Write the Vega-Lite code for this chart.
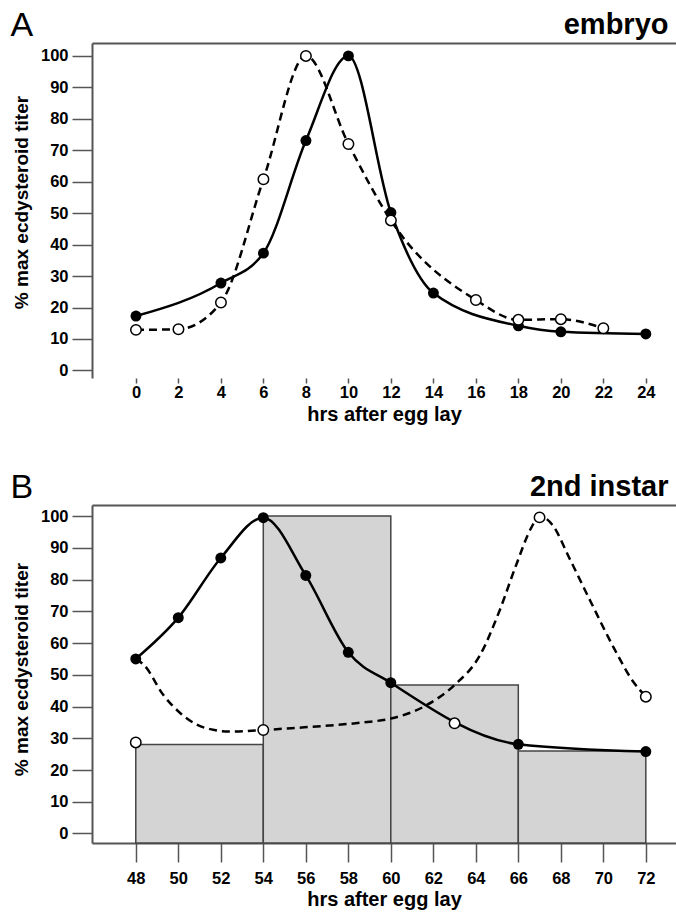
{
  "$schema": "https://vega.github.io/schema/vega-lite/v6.json",
  "padding": {"left": 10, "top": 8, "right": 0, "bottom": 0},
  "background": "white",
  "spacing": 45,
  "config": {
    "view": {"stroke": null},
    "font": "Liberation Sans",
    "axis": {
      "grid": false,
      "domainColor": "#555555",
      "domainWidth": 2,
      "tickColor": "#555555",
      "tickWidth": 1.5,
      "labelColor": "#000000",
      "labelFont": "Liberation Sans",
      "labelFontWeight": "bold",
      "labelFontSize": 16.5,
      "labelOverlap": false,
      "labelBound": false,
      "titleColor": "#000000",
      "titleFont": "Liberation Sans",
      "titleFontSize": 19,
      "titleFontWeight": "bold"
    }
  },
  "datasets": {
    "embryo_solid": [
      {"hr": 0, "pct": 17.3}, {"hr": 4, "pct": 27.8}, {"hr": 6, "pct": 37.3},
      {"hr": 8, "pct": 73.1}, {"hr": 10, "pct": 100}, {"hr": 12, "pct": 50.2},
      {"hr": 14, "pct": 24.6}, {"hr": 18, "pct": 14.2}, {"hr": 20, "pct": 12.3},
      {"hr": 24, "pct": 11.6}
    ],
    "embryo_open": [
      {"hr": 0, "pct": 12.9}, {"hr": 2, "pct": 13.1}, {"hr": 4, "pct": 21.6},
      {"hr": 6, "pct": 60.8}, {"hr": 8, "pct": 100}, {"hr": 10, "pct": 72},
      {"hr": 12, "pct": 47.7}, {"hr": 16, "pct": 22.4}, {"hr": 18, "pct": 16.1},
      {"hr": 20, "pct": 16.3}, {"hr": 22, "pct": 13.4}
    ],
    "instar_solid": [
      {"hr": 48, "pct": 55}, {"hr": 50, "pct": 68}, {"hr": 52, "pct": 86.8},
      {"hr": 54, "pct": 99.5}, {"hr": 56, "pct": 81.3}, {"hr": 58, "pct": 57.1},
      {"hr": 60, "pct": 47.5}, {"hr": 66, "pct": 28.1}, {"hr": 72, "pct": 25.8}
    ],
    "instar_open": [
      {"hr": 48, "pct": 28.7}, {"hr": 54, "pct": 32.6}, {"hr": 63, "pct": 34.7},
      {"hr": 67, "pct": 99.6}, {"hr": 72, "pct": 43.1}
    ],
    "instar_curve": [
      {"hr": 48, "pct": 55}, {"hr": 48.4, "pct": 53}, {"hr": 49.3, "pct": 43.6},
      {"hr": 50.1, "pct": 37.9}, {"hr": 50.9, "pct": 34.2}, {"hr": 51.7, "pct": 32.6},
      {"hr": 52.4, "pct": 32.1}, {"hr": 54, "pct": 32.6}, {"hr": 55.6, "pct": 33.3},
      {"hr": 57.1, "pct": 34.0}, {"hr": 58.7, "pct": 35.0}, {"hr": 60, "pct": 36.2},
      {"hr": 61.7, "pct": 40.5}, {"hr": 63, "pct": 46.8}, {"hr": 64.2, "pct": 56.2},
      {"hr": 65.1, "pct": 69.9}, {"hr": 65.9, "pct": 84.6}, {"hr": 66.6, "pct": 96.2},
      {"hr": 67, "pct": 100}, {"hr": 67.6, "pct": 97.3}, {"hr": 68.4, "pct": 86.8},
      {"hr": 69.4, "pct": 73.1}, {"hr": 70.5, "pct": 58.4}, {"hr": 71.4, "pct": 47.9},
      {"hr": 72, "pct": 43.1}
    ],
    "instar_bars": [
      {"start": 48, "end": 54, "pct": 28},
      {"start": 54, "end": 60, "pct": 100},
      {"start": 60, "end": 66, "pct": 46.8},
      {"start": 66, "end": 72, "pct": 26}
    ]
  },
  "vconcat": [
    {
      "width": 584,
      "height": 335,
      "resolve": {"axis": {"x": "independent"}},
      "layer": [
        {
          "data": {"name": "embryo_open"},
          "mark": {"type": "line", "interpolate": "monotone", "strokeDash": [8, 5], "strokeWidth": 2.5, "color": "#000000"},
          "encoding": {
            "x": {"field": "hr", "type": "quantitative", "scale": {"domain": [-2.07, 25.42], "nice": false, "zero": false},
              "axis": {"orient": "bottom", "values": [0, 2, 4, 6, 8, 10, 12, 14, 16, 18, 20, 22, 24], "domain": false, "tickSize": 5, "labelPadding": 1, "title": "hrs after egg lay", "titlePadding": 4, "titleFontSize": 20}},
            "y": {"field": "pct", "type": "quantitative", "scale": {"domain": [-2.4, 104.1], "nice": false, "zero": false},
              "axis": {"values": [0, 10, 20, 30, 40, 50, 60, 70, 80, 90, 100], "labelOverlap": false, "tickSize": 20, "labelPadding": 4, "title": "% max ecdysteroid titer", "titleX": -71, "titleY": 159, "titleAngle": 270, "titleAlign": "center", "titleBaseline": "middle"}}
          }
        },
        {
          "data": {"name": "embryo_solid"},
          "mark": {"type": "line", "interpolate": "monotone", "strokeWidth": 2.5, "color": "#000000"},
          "encoding": {
            "x": {"field": "hr", "type": "quantitative", "scale": {"domain": [-2.07, 25.42], "nice": false, "zero": false},
              "axis": {"orient": "top", "domain": true, "ticks": false, "labels": false, "title": "A", "titleX": -82, "titleY": -8, "titleAlign": "left", "titleBaseline": "alphabetic", "titleAngle": 0, "titleFontSize": 34, "titleFontWeight": "normal"}},
            "y": {"field": "pct", "type": "quantitative", "scale": {"domain": [-2.4, 104.1], "nice": false, "zero": false},
              "axis": {"values": [0, 10, 20, 30, 40, 50, 60, 70, 80, 90, 100], "labelOverlap": false, "tickSize": 20, "labelPadding": 4, "title": "% max ecdysteroid titer", "titleX": -71, "titleY": 159, "titleAngle": 270, "titleAlign": "center", "titleBaseline": "middle"}}
          }
        },
        {
          "data": {"name": "embryo_solid"},
          "mark": {"type": "circle", "size": 120, "opacity": 1, "color": "#000000"},
          "encoding": {
            "x": {"field": "hr", "type": "quantitative", "scale": {"domain": [-2.07, 25.42], "nice": false, "zero": false},
              "axis": {"orient": "top", "domain": false, "ticks": false, "labels": false, "title": "embryo", "titleX": 576, "titleY": -10, "titleAlign": "right", "titleBaseline": "alphabetic", "titleAngle": 0, "titleFontSize": 29, "titleFontWeight": "bold"}},
            "y": {"field": "pct", "type": "quantitative", "scale": {"domain": [-2.4, 104.1], "nice": false, "zero": false},
              "axis": {"values": [0, 10, 20, 30, 40, 50, 60, 70, 80, 90, 100], "labelOverlap": false, "tickSize": 20, "labelPadding": 4, "title": "% max ecdysteroid titer", "titleX": -71, "titleY": 159, "titleAngle": 270, "titleAlign": "center", "titleBaseline": "middle"}}
          }
        },
        {
          "data": {"name": "embryo_open"},
          "mark": {"type": "point", "shape": "circle", "size": 110, "filled": false, "fill": "#ffffff", "fillOpacity": 1, "stroke": "#000000", "strokeWidth": 1.5, "opacity": 1},
          "encoding": {
            "x": {"field": "hr", "type": "quantitative", "scale": {"domain": [-2.07, 25.42], "nice": false, "zero": false}, "axis": null},
            "y": {"field": "pct", "type": "quantitative", "scale": {"domain": [-2.4, 104.1], "nice": false, "zero": false},
              "axis": {"values": [0, 10, 20, 30, 40, 50, 60, 70, 80, 90, 100], "labelOverlap": false, "tickSize": 20, "labelPadding": 4, "title": "% max ecdysteroid titer", "titleX": -71, "titleY": 159, "titleAngle": 270, "titleAlign": "center", "titleBaseline": "middle"}}
          }
        }
      ]
    },
    {
      "width": 584,
      "height": 338,
      "resolve": {"axis": {"x": "independent"}},
      "layer": [
        {
          "data": {"name": "instar_bars"},
          "mark": {"type": "bar", "fill": "#d4d4d4", "stroke": "#444444", "strokeWidth": 1.5},
          "encoding": {
            "x": {"field": "start", "type": "quantitative", "scale": {"domain": [45.94, 73.42], "nice": false, "zero": false},
              "axis": {"orient": "bottom", "values": [48, 50, 52, 54, 56, 58, 60, 62, 64, 66, 68, 70, 72], "domain": true, "tickSize": 19, "labelPadding": 8, "title": "hrs after egg lay", "titlePadding": 3, "titleFontSize": 20}},
            "x2": {"field": "end"},
            "y": {"field": "pct", "type": "quantitative", "scale": {"domain": [-3, 103.5], "nice": false, "zero": false},
              "axis": {"values": [0, 10, 20, 30, 40, 50, 60, 70, 80, 90, 100], "labelOverlap": false, "tickSize": 20, "labelPadding": 4, "title": "% max ecdysteroid titer", "titleX": -71, "titleY": 164, "titleAngle": 270, "titleAlign": "center", "titleBaseline": "middle"}},
            "y2": {"datum": -3}
          }
        },
        {
          "data": {"name": "instar_curve"},
          "mark": {"type": "line", "interpolate": "monotone", "strokeDash": [8, 5], "strokeWidth": 2.5, "color": "#000000"},
          "encoding": {
            "x": {"field": "hr", "type": "quantitative", "scale": {"domain": [45.94, 73.42], "nice": false, "zero": false},
              "axis": {"orient": "top", "domain": true, "ticks": false, "labels": false, "title": "B", "titleX": -82, "titleY": -8, "titleAlign": "left", "titleBaseline": "alphabetic", "titleAngle": 0, "titleFontSize": 34, "titleFontWeight": "normal"}},
            "y": {"field": "pct", "type": "quantitative", "scale": {"domain": [-3, 103.5], "nice": false, "zero": false},
              "axis": {"values": [0, 10, 20, 30, 40, 50, 60, 70, 80, 90, 100], "labelOverlap": false, "tickSize": 20, "labelPadding": 4, "title": "% max ecdysteroid titer", "titleX": -71, "titleY": 164, "titleAngle": 270, "titleAlign": "center", "titleBaseline": "middle"}}
          }
        },
        {
          "data": {"name": "instar_solid"},
          "mark": {"type": "line", "interpolate": "monotone", "strokeWidth": 2.5, "color": "#000000"},
          "encoding": {
            "x": {"field": "hr", "type": "quantitative", "scale": {"domain": [45.94, 73.42], "nice": false, "zero": false},
              "axis": {"orient": "top", "domain": false, "ticks": false, "labels": false, "title": "2nd instar", "titleX": 576, "titleY": -10, "titleAlign": "right", "titleBaseline": "alphabetic", "titleAngle": 0, "titleFontSize": 29, "titleFontWeight": "bold"}},
            "y": {"field": "pct", "type": "quantitative", "scale": {"domain": [-3, 103.5], "nice": false, "zero": false},
              "axis": {"values": [0, 10, 20, 30, 40, 50, 60, 70, 80, 90, 100], "labelOverlap": false, "tickSize": 20, "labelPadding": 4, "title": "% max ecdysteroid titer", "titleX": -71, "titleY": 164, "titleAngle": 270, "titleAlign": "center", "titleBaseline": "middle"}}
          }
        },
        {
          "data": {"name": "instar_solid"},
          "mark": {"type": "circle", "size": 120, "opacity": 1, "color": "#000000"},
          "encoding": {
            "x": {"field": "hr", "type": "quantitative", "scale": {"domain": [45.94, 73.42], "nice": false, "zero": false}, "axis": null},
            "y": {"field": "pct", "type": "quantitative", "scale": {"domain": [-3, 103.5], "nice": false, "zero": false},
              "axis": {"values": [0, 10, 20, 30, 40, 50, 60, 70, 80, 90, 100], "labelOverlap": false, "tickSize": 20, "labelPadding": 4, "title": "% max ecdysteroid titer", "titleX": -71, "titleY": 164, "titleAngle": 270, "titleAlign": "center", "titleBaseline": "middle"}}
          }
        },
        {
          "data": {"name": "instar_open"},
          "mark": {"type": "point", "shape": "circle", "size": 110, "filled": false, "fill": "#ffffff", "fillOpacity": 1, "stroke": "#000000", "strokeWidth": 1.5, "opacity": 1},
          "encoding": {
            "x": {"field": "hr", "type": "quantitative", "scale": {"domain": [45.94, 73.42], "nice": false, "zero": false}, "axis": null},
            "y": {"field": "pct", "type": "quantitative", "scale": {"domain": [-3, 103.5], "nice": false, "zero": false},
              "axis": {"values": [0, 10, 20, 30, 40, 50, 60, 70, 80, 90, 100], "labelOverlap": false, "tickSize": 20, "labelPadding": 4, "title": "% max ecdysteroid titer", "titleX": -71, "titleY": 164, "titleAngle": 270, "titleAlign": "center", "titleBaseline": "middle"}}
          }
        }
      ]
    }
  ]
}
